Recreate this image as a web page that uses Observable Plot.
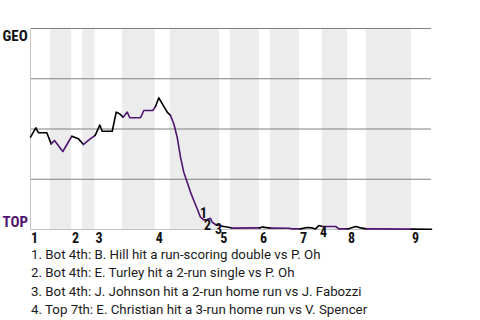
<!DOCTYPE html>
<html><head><meta charset="utf-8">
<script src="https://cdn.jsdelivr.net/npm/d3@7"></script>
<script src="https://cdn.jsdelivr.net/npm/@observablehq/plot@0.6"></script>
<style>
body{margin:0;background:#fff;}
#caption{font-family:Roboto,sans-serif;font-size:13.3px;color:#1a1a1a;line-height:18.3px;padding-left:31px;white-space:nowrap;}
</style></head><body>
<div id="chart"></div>
<div id="caption"></div>
<script>
// play index (x) and GEO win probability (y)
const playIndex = [0,1.59,2.39,4.88,6.19,7.18,9.67,12.36,14.36,15.86,17.87,19.36,20.74,21.46,24.45,25.65,26.63,27.74,28.94,29.72,32.92,33.9,36.6,37.4,38.39,40.91,41.9,42.88,43.9,44.89,45.87,46.89,47.88,48.87,49.88,50.87,51.86,52.88,53.87,54.38,55.36,56.35,57.37,59.25,60.15,68.53,69.43,71.82,77.21,78.4,80.8,82.8,84.3,85.3,86.3,87.3,91.3,92.3,94.9,97.3,98.8,100.5,114.0,120];
const geoWinProb = [0.460,0.506,0.481,0.481,0.426,0.443,0.388,0.464,0.451,0.423,0.451,0.468,0.520,0.489,0.489,0.584,0.576,0.559,0.584,0.556,0.556,0.592,0.592,0.612,0.655,0.584,0.567,0.526,0.459,0.360,0.285,0.235,0.186,0.144,0.103,0.061,0.048,0.050,0.056,0.036,0.025,0.020,0.016,0.011,0.007,0.008,0.012,0.007,0.006,0.003,0.003,0.010,0.008,0.003,0.020,0.015,0.015,0.003,0.003,0.015,0.008,0.003,0.002,0.001];
// start of each half inning (top 1, bottom 1, top 2, ...), and end of game
const halfStarts = [0,6.0,12.3,15.6,19.3,27.5,37.3,41.8,56.6,59.9,68.5,71.8,80.5,87.3,94.9,100.5,114.0];
const gameEnd = 120;
const innings = ["1","2","3","4","5","6","7","8","9"];
const teams = ["GEO","TOP"];
const annotationLabels = ["1","2","3","4"];
const annotationX = [51.8,53.0,56.3,87.7];
const annotationY = [0.080,0.020,0.000,-0.017];
const events = [
  "1. Bot 4th: B. Hill hit a run-scoring double vs P. Oh",
  "2. Bot 4th: E. Turley hit a 2-run single vs P. Oh",
  "3. Bot 4th: J. Johnson hit a 2-run home run vs J. Fabozzi",
  "4. Top 7th: E. Christian hit a 3-run home run vs V. Spencer"
];

const PURPLE = "#4f1470";
const colors = ["#000000", PURPLE];

const halfOf = x => { let k = 0; halfStarts.forEach((s,i)=>{ if (x >= s - 0.05) k = i; }); return k; };
const pts = playIndex.map((x,i)=>({x, p: geoWinProb[i], h: halfOf(x)}));
const lineRows = [];
pts.forEach((d,i)=>{
  lineRows.push({x:d.x, p:d.p, h:d.h});
  const n = pts[i+1];
  if (n && n.h !== d.h) lineRows.push({x:n.x, p:n.p, h:d.h});
});
const bands = [];
for (let k = 1; k < halfStarts.length; k += 2) bands.push({x1: halfStarts[k], x2: halfStarts[k+1] ?? gameEnd});
const inningRows = innings.map((t,i)=>({t, x: halfStarts[i*2]}));
const annRows = annotationLabels.map((t,i)=>({t, x: annotationX[i], p: annotationY[i]}));
const labelFont = {fontWeight: 700, fontSize: 14, fontFamily: "Roboto Condensed, Roboto, sans-serif"};

const chart = Plot.plot({
  width: 480, height: 246,
  marginTop: 28, marginBottom: 17, marginLeft: 30, marginRight: 49,
  x: {domain: [0, gameEnd], axis: null},
  y: {domain: [0, 1], axis: null},
  style: {fontFamily: "Roboto, sans-serif", background: "#fff"},
  marks: [
    Plot.rect(bands, {x1: "x1", x2: "x2", fill: "#ececec"}),
    Plot.ruleY([0.25, 0.5, 0.75, 1], {stroke: "#808080", strokeWidth: 1}),
    Plot.ruleY([0], {stroke: "#c4c4c4"}),
    Plot.ruleX([0], {stroke: "#c4c4c4"}),
    Plot.line(lineRows, {x: "x", y: "p", z: "h", stroke: d => colors[d.h % 2], strokeWidth: 1.6, curve: "linear"}),
    Plot.text(inningRows, {x: "x", text: "t", frameAnchor: "bottom", lineAnchor: "middle", textAnchor: "start", dx: 0.5, dy: 9, fill: "#111", ...labelFont}),
    Plot.text(annRows, {x: "x", y: "p", text: "t", fill: "#111", ...labelFont}),
    Plot.text([teams[0]], {text: d => d, frameAnchor: "top-left", lineAnchor: "middle", textAnchor: "start", dx: -28, dy: 7.5, fill: "#111", ...labelFont, fontSize: 15}),
    Plot.text([teams[1]], {text: d => d, frameAnchor: "bottom-left", lineAnchor: "middle", textAnchor: "start", dx: -28, dy: -7.5, fill: PURPLE, ...labelFont, fontSize: 15})
  ]
});
document.getElementById("chart").appendChild(chart);
document.getElementById("caption").innerHTML = events.map(e => `<div>${e}</div>`).join("");
</script>
</body></html>
